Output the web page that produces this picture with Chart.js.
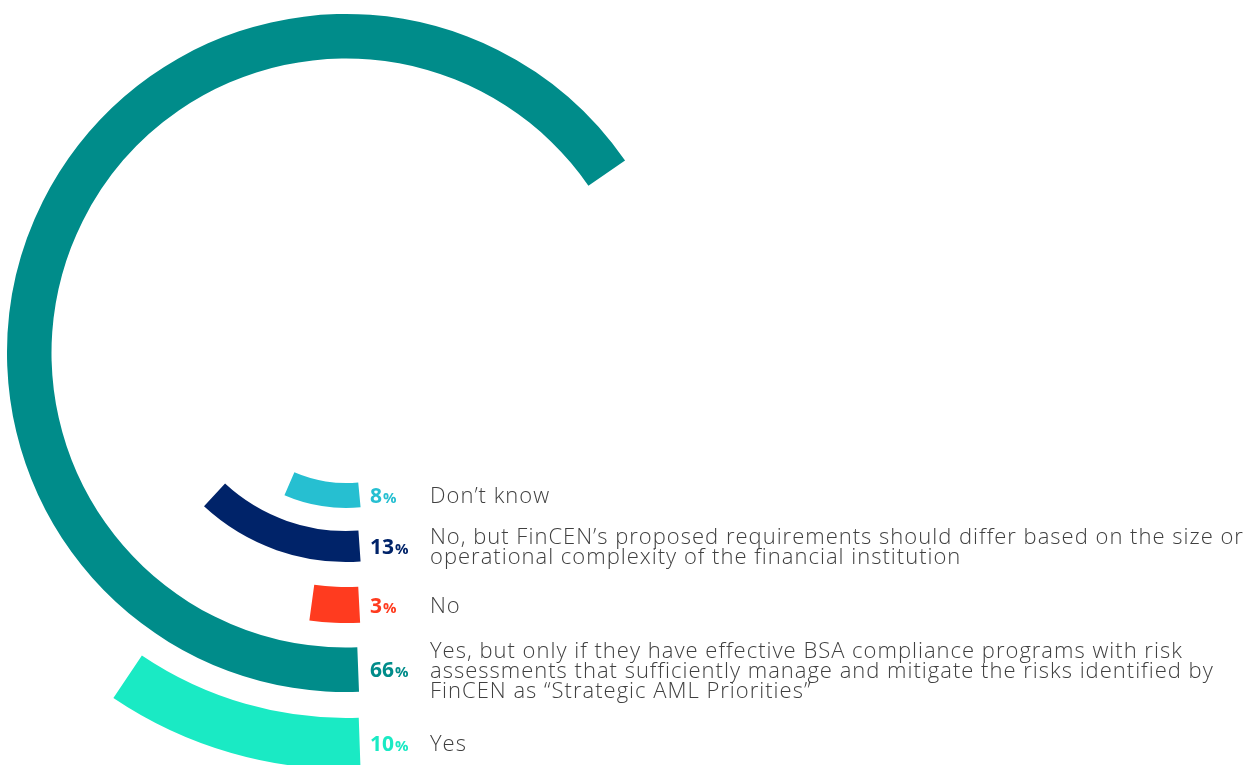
<!DOCTYPE html>
<html>
<head>
<meta charset="utf-8">
<script src="https://cdn.jsdelivr.net/npm/chart.js@4/dist/chart.umd.min.js"></script>
<style>
  html, body { margin: 0; padding: 0; background: #fff; overflow: hidden; width: 1254px; height: 765px; }
  #wrap { position: absolute; left: -70px; top: -63px; }
</style>
</head>
<body>
<div id="wrap"><canvas id="rings" width="1324" height="832"></canvas></div>
<script>
// answers, outermost ring first (one entry per text line)
const answers = [
  ['Yes'],
  ['Yes, but only if they have effective BSA compliance programs with risk',
   'assessments that sufficiently manage and mitigate the risks identified by',
   'FinCEN as \u201cStrategic AML Priorities\u201d'],
  ['No'],
  ['No, but FinCEN\u2019s proposed requirements should differ based on the size or',
   'operational complexity of the financial institution'],
  ['Don\u2019t know']
];
const shares = [10, 66, 3, 13, 8];

// ring styling
const ringColors = ['#1aeac4', '#008c8a', '#ff3b1f', '#002369', '#26bfd1'];
const ringWeights = [51, 44.5, 36, 31, 25];
const gapWeights = [26, 24.5, 25, 23];
const startAngles = [178, 177.8, 177, 176, 174.6];
const clear = 'rgba(0,0,0,0)';

const datasets = [];
shares.forEach((v, i) => {
  if (i > 0) {
    datasets.push({ data: [1], backgroundColor: [clear], weight: gapWeights[i - 1] });
  }
  datasets.push({
    data: [v, 100 - v],
    backgroundColor: [ringColors[i], clear],
    weight: ringWeights[i],
    rotation: startAngles[i],
    answer: i
  });
});

const ringLabels = {
  id: 'ringLabels',
  afterDatasetsDraw(chart) {
    const ctx = chart.ctx;
    chart.data.datasets.forEach((ds, di) => {
      if (ds.answer === undefined) return;
      const i = ds.answer;
      const arc = chart.getDatasetMeta(di).data[0];
      const midY = arc.y + (arc.innerRadius + arc.outerRadius) / 2;
      ctx.save();
      ctx.textAlign = 'left';
      ctx.textBaseline = 'alphabetic';

      // value: bold number with a smaller percent sign
      const num = String(shares[i]);
      const x0 = arc.x + 24;
      ctx.fillStyle = ringColors[i];
      ctx.font = 'bold 21px "Open Sans"';
      ctx.fillText(num, x0, midY + 7.5);
      const w = ctx.measureText(num).width;
      ctx.font = 'bold 15px "Open Sans"';
      ctx.fillText('%', x0 + w + 1, midY + 7.5);

      // answer text
      const lines = answers[i];
      const lh = 20;
      ctx.fillStyle = '#404040';
      ctx.font = '300 22px "Open Sans"';
      ctx.letterSpacing = '1px';
      lines.forEach((line, k) => {
        ctx.fillText(line, arc.x + 84, midY - (lines.length - 1) * lh / 2 + k * lh + 7.8);
      });
      ctx.restore();
    });
  }
};

new Chart(document.getElementById('rings'), {
  type: 'doughnut',
  data: { labels: ['share', 'rest'], datasets: datasets },
  options: {
    responsive: false,
    animation: false,
    events: [],
    rotation: 180,
    cutout: 130,
    layout: { padding: { right: 492 } },
    elements: { arc: { borderWidth: 0 } },
    plugins: {
      legend: { display: false },
      tooltip: { enabled: false }
    }
  },
  plugins: [ringLabels]
});
</script>
</body>
</html>
